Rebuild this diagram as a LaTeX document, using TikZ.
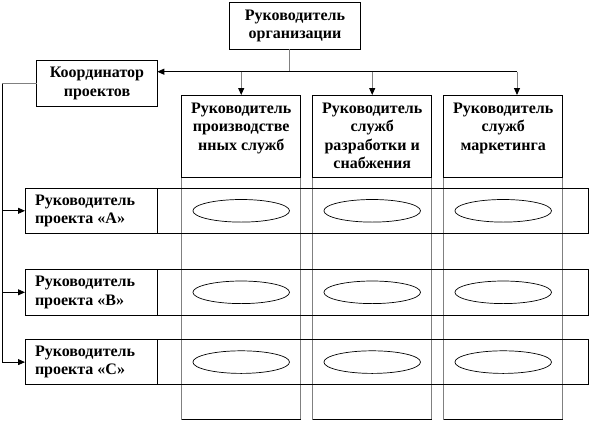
\documentclass[tikz,border=0pt]{standalone}
\usepackage{fontspec}
\setmainfont{Liberation Serif}
\usepackage{tikz}
\usetikzlibrary{shapes.geometric, arrows.meta, positioning, calc, backgrounds}
\definecolor{LineGray}{RGB}{128, 128, 128}

\begin{document}
\begin{tikzpicture}[
    x=1pt, y=-1pt,
    every node/.style={outer sep=0pt},
    txt/.style={font=\bfseries\fontsize{16}{18.5}\selectfont, align=center},
    boss/.style={rectangle, draw, line width=0.8pt, txt, minimum width=131pt, minimum height=46.6pt},
    coord/.style={rectangle, draw, line width=0.8pt, txt, minimum width=120.6pt, minimum height=46pt},
    dept/.style={rectangle, draw, line width=0.8pt, txt, minimum width=119pt, minimum height=82pt, inner sep=0pt},
    colbox/.style={rectangle, draw=LineGray, line width=1pt, minimum width=119pt, minimum height=242.3pt},
    proj/.style={rectangle, draw, line width=0.8pt, minimum width=563pt, minimum height=45.5pt},
    projtxt/.style={txt, align=left, anchor=west, inner sep=0pt},
    cell/.style={ellipse, draw, line width=0.7pt, minimum width=96.6pt, minimum height=22.6pt, inner sep=0pt},
    arrow/.style={-{Triangle[length=7pt, width=6pt]}, line width=0.8pt},
    darrow/.style={-{Triangle[length=7pt, width=6pt, color=black]}, draw=LineGray, line width=1pt}
]
    \useasboundingbox (0,0) rectangle (589,421);

    % Руководство
    \node[boss] (boss) at (295,26) {Руководитель\\организации};
    \node[coord] (coord) at (97,83.7) {Координатор\\проектов};

    % Функциональные службы
    \node[dept] (d1) at (241.2,136) {Руководитель\\производстве\\нных служб\\\phantom{Р}};
    \node[dept, right=12pt of d1] (d2) {Руководитель\\служб\\разработки и\\снабжения};
    \node[dept, right=12pt of d2] (d3) {Руководитель\\служб\\маркетинга\\\phantom{Р}};

    % Проекты
    \node[proj] (pA) at (306.5,210.8) {};
    \node[proj, below=36pt of pA] (pB) {};
    \node[proj, below=24.3pt of pB] (pC) {};
    \node[projtxt] (tA) at ($(pA.west)+(10,0)$) {Руководитель\\проекта «А»};
    \node[projtxt] (tB) at ($(pB.west)+(10,0)$) {Руководитель\\проекта «В»};
    \node[projtxt] (tC) at ($(pC.west)+(10,0)$) {Руководитель\\проекта «С»};
    \foreach \r in {A,B,C}
        \draw[line width=0.8pt] (p\r.north -| coord.east) -- (p\r.south -| coord.east);

    % Колонки служб
    \begin{scope}[on background layer]
        \node[colbox, below=0pt of d1] (c1) {};
        \node[colbox, below=0pt of d2] (c2) {};
        \node[colbox, below=0pt of d3] (c3) {};
    \end{scope}
    \foreach \c in {c1,c2,c3}
        \draw[line width=0.8pt] (\c.south west) -- (\c.south east);

    % Пересечения
    \foreach \c in {1,2,3}
        \foreach \r in {A,B,C}
            \node[cell] (e\r\c) at (c\c |- p\r) {};

    % Связи
    \coordinate (bus) at (289,71.7);
    \coordinate (busR) at (517,71.7);
    \draw[LineGray, line width=1pt] (boss.south -| bus) -- (bus);
    \draw[arrow] (bus) -- (bus -| coord.east);
    \draw[line width=0.8pt] (bus) -- (busR);
    \draw[darrow] (d1.north |- bus) -- (d1.north);
    \draw[darrow] (d2.north |- bus) -- (d2.north);
    \draw[darrow] (busR) -- (busR |- d3.north);

    \coordinate (feed) at ($(coord.west)+(-34.7,0)$);
    \draw[LineGray, line width=1pt] (coord.west) -- (feed);
    \draw[line width=0.8pt] (feed) -- (feed |- pC.west);
    \foreach \r in {A,B,C}
        \draw[arrow] (feed |- p\r.west) -- (p\r.west);
\end{tikzpicture}
\end{document}
